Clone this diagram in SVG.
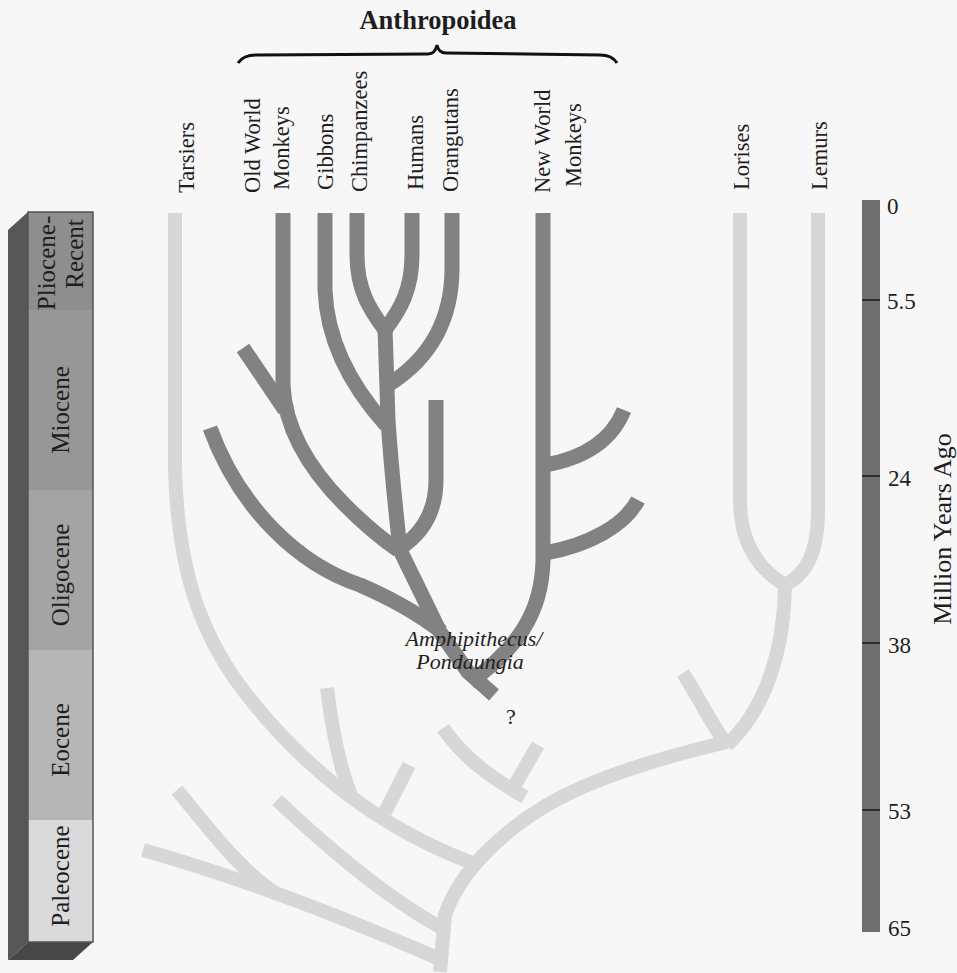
<svg xmlns="http://www.w3.org/2000/svg" width="957" height="973" viewBox="0 0 957 973">
<style>
text{font-family:"Liberation Serif","Times New Roman",serif;fill:#1e1e1e}
.lab{font-family:"Liberation Serif","Times New Roman",serif;font-size:22.5px}
.dk{fill:none;stroke:#828282;stroke-width:15;stroke-linecap:butt;stroke-linejoin:round}
.lt{fill:none;stroke:#d7d7d7;stroke-width:14;stroke-linecap:butt;stroke-linejoin:round}
.ep{font-family:"Liberation Serif","Times New Roman",serif;font-size:25px}
.tick{stroke:#2e2e2e;stroke-width:2}
.num{font-family:"Liberation Serif","Times New Roman",serif;font-size:23px}
</style>
<rect width="957" height="973" fill="#f7f7f7"/>

<g id="title">
<text x="438" y="29" text-anchor="middle" font-weight="bold" font-size="26.5">Anthropoidea</text>
<path d="M238,63 C242,57 247,55 256,55 L428,54 C433,54 436,50 437,45 C438,50 441,53 446,53 L600,55 C609,55 614,58 617,63" fill="none" stroke="#111" stroke-width="3"/>
</g>

<g id="taxa">
<g id="tarsiers"><text class="lab" transform="translate(194,193) rotate(-90)">Tarsiers</text></g>
<g id="owm"><text class="lab" transform="translate(260,193) rotate(-90)">Old World</text><text class="lab" transform="translate(289,190) rotate(-90)">Monkeys</text></g>
<g id="gibbons"><text class="lab" transform="translate(333,190) rotate(-90)">Gibbons</text></g>
<g id="chimps"><text class="lab" transform="translate(367,192) rotate(-90)">Chimpanzees</text></g>
<g id="humans"><text class="lab" transform="translate(423,190) rotate(-90)">Humans</text></g>
<g id="orangutans"><text class="lab" transform="translate(458,192) rotate(-90)">Orangutans</text></g>
<g id="nwm"><text class="lab" transform="translate(550,193) rotate(-90)">New World</text><text class="lab" transform="translate(581,187) rotate(-90)">Monkeys</text></g>
<g id="lorises"><text class="lab" transform="translate(749,190) rotate(-90)">Lorises</text></g>
<g id="lemurs"><text class="lab" transform="translate(827,190) rotate(-90)">Lemurs</text></g>
</g>

<g id="connectors">
<!-- light (extinct/outgroup) lineages -->
<path class="lt" d="M175,213 V470 C178,570 200,640 255,705 C300,760 370,825 475,864"/>
<path class="lt" d="M327,688 C332,730 340,770 353,800"/>
<path class="lt" d="M409,765 L385,812"/>
<path class="lt" d="M443,728 C465,760 495,780 525,797"/>
<path class="lt" d="M538,745 L512,790"/>
<path class="lt" d="M727,742 C650,760 590,780 547,805 C505,830 460,870 445,915 L440,972"/>
<path class="lt" d="M277,800 C330,850 390,900 442,928"/>
<path class="lt" d="M143,850 C250,880 350,920 442,960"/>
<path class="lt" d="M177,790 C210,830 240,870 275,893"/>
<path class="lt" d="M740,213 V500 C740,545 760,570 785,585"/>
<path class="lt" d="M818,213 V510 C818,555 805,575 785,585"/>
<path class="lt" d="M785,580 C785,650 765,710 727,745"/>
<path class="lt" d="M683,673 C700,700 712,725 727,745"/>
<!-- dark (anthropoid) lineages -->
<path class="dk" d="M283,213 V385 C285,430 310,470 345,505 C365,525 380,538 398,550"/>
<path class="dk" d="M243,348 L285,410"/>
<path class="dk" d="M210,428 C240,510 300,565 360,585 C395,600 420,615 442,632"/>
<path class="dk" d="M325,213 V290 C327,340 350,385 386,425"/>
<path class="dk" d="M357,213 V255 C357,290 370,310 385,330"/>
<path class="dk" d="M412,213 V255 C412,290 400,310 385,330"/>
<path class="dk" d="M452,213 V268 C452,330 420,365 388,385"/>
<path class="dk" d="M385,328 L388,420 C392,480 397,520 400,550 L440,632 L468,672 L494,695"/>
<path class="dk" d="M436,400 V480 C436,515 420,535 400,548"/>
<path class="dk" d="M543,213 V560 C542,615 515,650 470,682"/>
<path class="dk" d="M545,465 C585,458 612,440 624,410"/>
<path class="dk" d="M545,553 C590,545 625,525 638,500"/>
</g>

<g id="amphipithecus">
<text x="474" y="646" text-anchor="middle" font-style="italic" font-size="22">Amphipithecus/</text>
<text x="470" y="669" text-anchor="middle" font-style="italic" font-size="22">Pondaungia</text>
<text x="511" y="724" text-anchor="middle" font-size="22">?</text>
</g>

<g id="epochs">
<polygon points="8,230 28,212 28,942 8,960" fill="#565656"/>
<polygon points="28,942 93,942 73,960 8,960" fill="#474747"/>
<rect x="28" y="212" width="65" height="98" fill="#8e8e8e"/>
<rect x="28" y="310" width="65" height="180" fill="#979797"/>
<rect x="28" y="490" width="65" height="160" fill="#a4a4a4"/>
<rect x="28" y="650" width="65" height="170" fill="#b6b6b6"/>
<rect x="28" y="820" width="65" height="122" fill="#dadada"/>
<rect x="28" y="212" width="65" height="730" fill="none" stroke="#555" stroke-width="1.5"/>
<text class="ep" text-anchor="middle" transform="translate(55,263) rotate(-90)">Pliocene-</text>
<text class="ep" text-anchor="middle" transform="translate(83,254) rotate(-90)">Recent</text>
<text class="ep" text-anchor="middle" transform="translate(69,410) rotate(-90)">Miocene</text>
<text class="ep" text-anchor="middle" transform="translate(69,575) rotate(-90)">Oligocene</text>
<text class="ep" text-anchor="middle" transform="translate(69,740) rotate(-90)">Eocene</text>
<text class="ep" text-anchor="middle" transform="translate(69,876) rotate(-90)">Paleocene</text>
</g>

<g id="scale">
<rect x="862" y="200" width="18" height="732" fill="#6f6f6f"/>
<line class="tick" x1="862" y1="300" x2="880" y2="300"/>
<line class="tick" x1="862" y1="476" x2="880" y2="476"/>
<line class="tick" x1="862" y1="643" x2="880" y2="643"/>
<line class="tick" x1="862" y1="810" x2="880" y2="810"/>
<text class="num" x="887" y="214">0</text>
<text class="num" x="887" y="309">5.5</text>
<text class="num" x="888" y="486">24</text>
<text class="num" x="888" y="653">38</text>
<text class="num" x="888" y="819">53</text>
<text class="num" x="888" y="936">65</text>
<text class="lab" font-size="26" style="font-size:26px" text-anchor="middle" transform="translate(951,529) rotate(-90)">Million Years Ago</text>
</g>
</svg>
